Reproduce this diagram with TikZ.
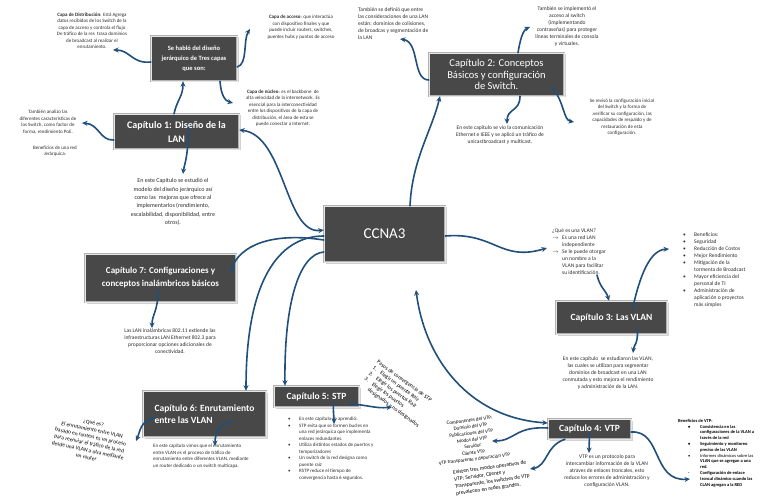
\documentclass[tikz,border=0pt]{standalone}
\usepackage{fontspec}
\setmainfont{Carlito}
\usetikzlibrary{arrows.meta,shadows}

\definecolor{boxgray}{RGB}{72,72,72}
\definecolor{linkblue}{RGB}{33,79,123}
\definecolor{notegray}{RGB}{45,45,45}

\newcommand{\notesize}{\fontsize{5}{6.5}\selectfont}
\newcommand{\smallnote}{\fontsize{5.5}{7}\selectfont}
\newcommand{\bul}{\makebox[11pt][l]{\textbullet}}
\newcommand{\ind}{\hspace*{11pt}}
\newcommand{\arr}{\makebox[10pt][l]{$\rightarrow$}}
\newcommand{\aind}{\hspace*{10pt}}
\newcommand{\vbul}{\hspace*{10pt}\makebox[12pt][l]{\textbullet}}
\newcommand{\vind}{\hspace*{22pt}}
\newcommand{\num}[1]{\makebox[9pt][l]{#1}}

\tikzset{
  >={Stealth[length=5.5pt,width=5pt]},
  chapter/.style={fill=boxgray, draw=black!30, double=white!90!black, double distance=0.9pt,
    text=white, align=center, inner sep=2pt,
    drop shadow={shadow xshift=1.5pt, shadow yshift=-1.5pt, opacity=0.35}},
  note/.style={align=center, inner sep=0pt, text=notegray, font=\notesize},
  link/.style={draw=linkblue, line width=1.6pt, line cap=round, ->},
  twoway/.style={link, <->},
}

\begin{document}
\begin{tikzpicture}[x=1pt,y=-1pt]

	\path[use as bounding box, fill=white] (0,0) rectangle (768,497);

	% Chapter boxes
	\node[chapter, minimum width=86pt, minimum height=45pt, font=\bfseries\fontsize{6.5}{10}\selectfont] (sehablo) at (194,58.5) {Se habló del diseño\\jerárquico de Tres capas\\que son:};
	\node[chapter, minimum width=125pt, minimum height=35pt, font=\bfseries\fontsize{10}{14}\selectfont] (cap1) at (176.5,131.5) {Capítulo 1: Diseño de la\\LAN};
	\node[chapter, minimum width=135pt, minimum height=43pt, font=\fontsize{10.5}{11.5}\selectfont] (cap2) at (496.5,74.5) {Capítulo 2: Conceptos\\Básicos y configuración\\de Switch.};
	\node[chapter, minimum width=121pt, minimum height=56pt, font=\fontsize{15}{18}\selectfont] (ccna) at (384.5,234) {CCNA3};
	\node[chapter, minimum width=111pt, minimum height=33pt, font=\bfseries\fontsize{9.5}{12}\selectfont] (cap3) at (611.5,317.5) {Capítulo 3: Las VLAN};
	\node[chapter, minimum width=151pt, minimum height=48pt, font=\bfseries\fontsize{9}{13}\selectfont] (cap7) at (160.5,278) {Capítulo 7: Configuraciones y\\conceptos inalámbricos básicos};
	\node[chapter, minimum width=123pt, minimum height=46pt, align=left, font=\bfseries\fontsize{9.5}{12}\selectfont] (cap6) at (204.5,414) {Capítulo 6: Enrutamiento\\entre las VLAN};
	\node[chapter, minimum width=85pt, minimum height=21pt, font=\bfseries\fontsize{9.5}{12}\selectfont] (cap5) at (316.5,396.5) {Capítulo 5: STP};
	\node[chapter, minimum width=83pt, minimum height=20pt, font=\bfseries\fontsize{9.5}{12}\selectfont] (cap4) at (589.5,429) {Capítulo 4: VTP};

	% Notes - chapter 1
	\node[note] (distrib) at (92,31) {\textbf{Capa de Distribución}: Está Agrega\\datos recibidos de los Switch de la\\capa de acceso y controla el flujo\\De tráfico de la res \ trasa dominios\\de broadcast al realizar el\\enrutamiento.};
	\node[note] (acceso) at (301,27) {\textbf{Capa de acceso}: que interactúa\\con dispositivo finales y que\\puede incluir routers, switches,\\puentes hubs y puntos de acceso};
	\node[note] (nucleo) at (283,108) {\textbf{Capa de núcleo}: es el backbone \ de\\alta velocidad de la internetwork. Es\\esencial para la interconectividad\\entre los dispositivos de la capa de\\distribución, el área de esta se\\puede conectar a Internet.};
	\node[note] (analizo) at (48,122) {También analizo las\\diferentes características de\\los Switch, como factor de\\forma, rendimiento PoE.};
	\node[note] (benefred) at (55,151) {Beneficios de una red\\Jerárquica:};
	\node[note, font=\fontsize{6}{8.3}\selectfont] (estudio) at (173,202) {En este Capitulo se estudió el\\modelo del diseño jerárquico así\\como las \ mejoras que ofrece al\\implementarlos (rendimiento,\\escalabilidad, disponibilidad, entre\\otros).};

	% Notes - chapter 2
	\node[note, font=\smallnote, align=left, anchor=north west] (definio) at (358,7) {También se definió que entre\\las consideraciones de una LAN\\están: dominios de colisiones,\\de broadcas y segmentación de\\la LAN};
	\node[note, font=\smallnote] (implemento) at (567,27) {También se implementó el\\acceso al switch\\(implementando\\contraseñas) para proteger\\líneas terminales de consola\\y virtuales.};
	\node[note] (reviso) at (622,117) {Se revisó la configuración inicial\\del Switch y la forma de\\.verificar su configuración, las\\capacidades de respaldo y de\\restauración de esta\\configuración.};
	\node[note, font=\smallnote] (vio) at (500,135) {En este capítulo se vio la comunicación\\Ethernet e IEEE y se aplicó un tráfico de\\unicastbroadcast y multicast.};

	% Notes - chapter 3
	\node[note, font=\smallnote, align=left, anchor=north west] (quevlan) at (552,229) {¿Qué es una VLAN?\\\arr Es una red LAN\\\aind independiente\\\arr Se le puede otorgar\\\aind un nombre a la\\\aind VLAN para facilitar\\\aind su identificación.};
	\node[note, font=\smallnote, align=left, anchor=north west] (benefvlan) at (683,232) {\bul Beneficios:\\\bul Seguridad\\\bul Reducción de Costos\\\bul Mejor Rendimiento\\\bul Mitigación de la\\\ind tormenta de Broadcast\\\bul Mayor eficiencia del\\\ind personal de TI\\\bul Administración de\\\ind aplicación o proyectos\\\ind más simples};
	\node[note, font=\smallnote] (estudiaron) at (608,373) {En este capítulo \ se estudiaron las VLAN,\\las cuales se utilizan para segmentar\\dominios de broadcast en una LAN\\conmutada y esto mejora el rendimiento\\y administración de la LAN.};

	% Notes - chapter 7 and 6
	\node[note, font=\smallnote] (inalambricas) at (170,341) {Las LAN inalámbricas 802.11 extiende las\\infraestructuras LAN Ethernet 802.3 para\\proporcionar opciones adicionales de\\conectividad.};
	\node[note, text=black, font=\smallnote, rotate=-12] (quees) at (90,440) {¿Qué es?\\El enrutamiento entre VLAN\\basado en routers es un proceso\\para reenviar el tráfico de la red\\desde una VLAN a otra mediante\\un router};
	\node[note, align=left, anchor=north west] (vimos) at (153,444) {En este capítulo vimos que el enrutamiento\\entre VLAN es el proceso de tráfico de\\enrutamiento entre diferentes VLAN, mediante\\un router dedicado o un switch multicapa.};

	% Notes - chapter 5
	\node[note, text=black, font=\smallnote, align=left, rotate=-36] (pasos) at (398,394) {Pasos de convergencia de STP\\\num{1.}Elegir un puente Raíz\\\num{2.}Elegir los puertos Raíz\\\num{3.}Elegir los puertos\\\num{}designados y no designados};
	\node[note, align=left, anchor=north west] (stplist) at (288,417) {\bul En este capítulo se aprendió:\\\bul STP evita que se formen bucles en\\\ind una red jerárquica que implementa\\\ind enlaces redundantes.\\\bul Utiliza distintos estados de puertos y\\\ind temporizadores\\\bul Un switch de la red designa como\\\ind puente raíz\\\bul RSTP reduce el tiempo de\\\ind convergencia hasta 6 segundos.};

	% Notes - chapter 4
	\node[note, text=black, rotate=7] (componentes) at (472,440) {Componentes del VTP:\\Dominio del VTP\\Publicaciones del VTP\\Modos del VTP\\Servidor\\Cliente VTP\\VTP transparente y depuración VTP};
	\node[note, text=black, font=\smallnote, align=left, rotate=8] (existen) at (492,478) {Existen tres modos operativos de\\VTP: Servidor, Cliente y\\Transparente, los switches de VTP\\prevalecen en redes grandes.};
	\node[note, font=\smallnote] (vtpproto) at (607,471) {VTP es un protocolo para\\intercambiar información de la VLAN\\atraves de enlaces troncales, esto\\reduce los errores de administración y\\configuración VLAN.};
	\node[note, text=black, font=\fontsize{4.5}{5.8}\selectfont, align=left, anchor=north west] (benefvtp) at (678,419) {\textbf{Beneficios de VTP:}\\\textbf{\vbul Consistencia en las}\\\textbf{\vind configuraciones de la VLAN a}\\\textbf{\vind través de la red}\\\textbf{\vbul Seguimiento y monitoreo}\\\textbf{\vind preciso de las VLAN}\\\vbul Informes dinámicos sobre las\\\textbf{\vind VLAN que se agregan a una}\\\textbf{\vind red.}\\\textbf{\hspace*{10pt}\makebox[12pt][l]{-}Configuración de enlace}\\\textbf{\vind troncal dinámico cuando las}\\\textbf{\vind CLAN agregan a la RED}};

	% Arrow tips
	\coordinate (tipdistrib) at (113,50);
	\coordinate (tipacceso) at (250,29);
	\coordinate (tipnucleo) at (233,103);
	\coordinate (tipanalizo) at (82,123);
	\coordinate (tipestudio) at (183,174);
	\coordinate (tipdefinio) at (400,39);
	\coordinate (tipimplemento) at (530,27);
	\coordinate (tipvio) at (507,124);
	\coordinate (tipreviso) at (574,122);
	\coordinate (tipquevlan) at (547,248);
	\coordinate (quevlanfoot) at (597,275);
	\coordinate (tipbenefvlan) at (669,249);
	\coordinate (tipestudiaron) at (633,353);
	\coordinate (tipinalambricas) at (152,328);
	\coordinate (tipquees) at (136,441);
	\coordinate (tipvimos) at (215,446);
	\coordinate (tipstplist) at (334,424);
	\coordinate (tippasos) at (392,407);
	\coordinate (tipcomponentes) at (492,441);
	\coordinate (tipexisten) at (530,469);
	\coordinate (tipvtpproto) at (589,453);
	\coordinate (tipbenefvtp) at (690,479);
	\coordinate (ccnabelow) at (416,290);

	% Links around chapter 1
	\draw[link] (sehablo.west |- 0,62) .. controls (132,64) and (130,50) .. (tipdistrib);
	\draw[link] (sehablo.east |- 0,67) .. controls (248,64) and (243,40) .. (tipacceso);
	\draw[link] (sehablo.south -| 220,0) .. controls (221,95) and (225,101) .. (tipnucleo);
	\draw[link] (cap1.north -| 174,0) .. controls (177,100) and (183,96) .. (sehablo.south -| 183,0);
	\draw[link] (cap1.west |- 0,140) .. controls (100,141) and (99,124) .. (tipanalizo);
	\draw[link] ([xshift=12pt,yshift=22pt]cap1.south) .. controls (188,160) and (184,165) .. (tipestudio);

	% Links around chapter 2
	\draw[link] (cap2.west |- 0,80) .. controls (412,80) and (420,42) .. (tipdefinio);
	\draw[link] (cap2.north -| 518,0) .. controls (520,40) and (523,30) .. (tipimplemento);
	\draw[link] (cap2.south -| 520,0) .. controls (520,112) and (507,108) .. (tipvio);
	\draw[link] ([xshift=55pt,yshift=10pt]cap2.south) .. controls (565,103) and (563,120) .. (tipreviso);

	% Links around chapter 3
	\draw[link] (quevlanfoot) .. controls (600,288) and (606,290) .. (cap3.north -| 609,0);
	\draw[link] ([xshift=21pt,yshift=-8pt]cap3.north) .. controls (640,275) and (650,250) .. (tipbenefvlan);
	\draw[link] ([xshift=26pt,yshift=5pt]cap3.south) .. controls (638,345) and (634,344) .. (tipestudiaron);

	% Links around chapters 7, 6 and 5
	\draw[link] ([xshift=-2.5pt,yshift=12pt]cap7.south) .. controls (158,312) and (152,314) .. (tipinalambricas);
	\draw[link] ([xshift=-49pt,yshift=-4pt]cap6.center) .. controls (140,420) and (140,432) .. (tipquees);
	\draw[link] ([xshift=28pt,yshift=16pt]cap6.south) .. controls (220,424) and (215,432) .. (tipvimos);
	\draw[link] ([xshift=17pt,yshift=4pt]cap5.south) .. controls (333,412) and (334,416) .. (tipstplist);
	\draw[link] ([xshift=32pt,yshift=3pt]cap5.south) .. controls (365,404) and (375,409) .. (tippasos);

	% Links around chapter 4
	\draw[link] (cap4.west |- 0,428) .. controls (515,426) and (515,441) .. (tipcomponentes);
	\draw[link] (cap4.south -| 565,0) .. controls (545,446) and (548,466) .. (tipexisten);
	\draw[link] ([yshift=6pt]cap4.south) -- (tipvtpproto);
	\draw[link] (cap4.east |- 0,432) .. controls (662,430) and (652,482) .. (tipbenefvtp);

	% Links from CCNA3 to the chapters
	\draw[twoway] (ccna.west |- 0,230) .. controls (285,235) and (285,135) .. (cap1.east |- 0,130);
	\draw[link] (ccna.north -| 410,0) .. controls (412,160) and (432,130) .. (cap2.south -| 440,0);
	\draw[link] (ccna.east |- 0,236) .. controls (495,232) and (500,262) .. (tipquevlan);
	\draw[twoway] (cap4.west |- 0,423) .. controls (470,418) and (425,360) .. (ccnabelow);
	\draw[link] (ccna.west |- 0,252) .. controls (300,254) and (284,300) .. (cap5.north -| 285,0);
	\draw[link] (ccna.west |- 0,236) .. controls (285,236) and (246,270) .. (cap6.north -| 246,0);
	\draw[link] (ccna.west |- 0,240) .. controls (272,232) and (240,245) .. ([xshift=-6pt,yshift=6pt]cap7.east);

\end{tikzpicture}
\end{document}
